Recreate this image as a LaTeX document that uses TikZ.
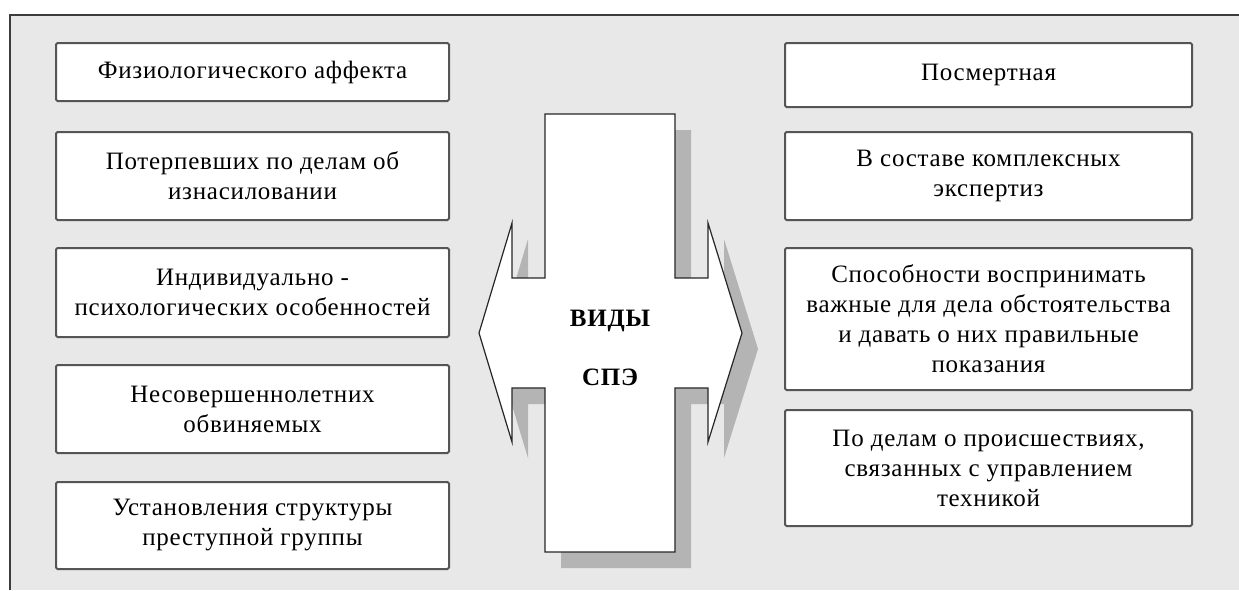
\documentclass[tikz,border=0pt]{standalone}
\usepackage{fontspec}
\setmainfont{Liberation Serif}[LetterSpace=3]
\definecolor{bg}{HTML}{E8E8E8}
\definecolor{frameline}{HTML}{3C3C3C}
\definecolor{boxline}{HTML}{555555}
\definecolor{shadowgray}{HTML}{B4B4B4}
\definecolor{shapeline}{HTML}{262626}
\begin{document}
\begin{tikzpicture}[x=1pt,y=-1pt,
  box/.style={draw=boxline, line width=2pt, fill=white, rounded corners=1.5pt,
    align=center, inner sep=0pt, font=\fontsize{25}{30}\selectfont},
  leftbox/.style={box, minimum width=393pt},
  rightbox/.style={box, minimum width=407pt},
  centertext/.style={font=\fontsize{25}{30}\selectfont\bfseries, anchor=base, inner sep=0pt}]
\useasboundingbox (0,0) rectangle (1239,590);
\fill[bg] (10,15) rectangle (1239,590);
\draw[frameline, line width=2.5pt] (10,590) -- (10,15) -- (1239,15);

% left column
\node[leftbox, minimum height=58pt] (l1) at (252.5,72) {Физиологического аффекта};
\node[leftbox, minimum height=88pt] (l2) at (252.5,176) {Потерпевших по делам об\\изнасиловании};
\node[leftbox, minimum height=89pt] (l3) at (252.5,292.5) {Индивидуально -\\психологических особенностей};
\node[leftbox, minimum height=88pt] (l4) at (252.5,409) {Несовершеннолетних\\обвиняемых};
\node[leftbox, minimum height=87pt] (l5) at (252.5,525.5) {Установления структуры\\преступной группы};

% right column
\node[rightbox, minimum height=64pt] (r1) at (988.5,75) {Посмертная};
\node[rightbox, minimum height=88pt] (r2) at (988.5,176) {В составе комплексных\\экспертиз};
\node[rightbox, minimum height=142pt] (r3) at (988.5,319) {Способности воспринимать\\важные для дела обстоятельства\\и давать о них правильные\\показания};
\node[rightbox, minimum height=116pt] (r4) at (988.5,468) {По делам о происшествиях,\\связанных с управлением\\техникой};

% central cross-arrow shape: shadow then shape
\fill[shadowgray] (561,130) -- (691,130) -- (691,294) -- (724,294) -- (724,239) -- (758,349)
  -- (724,458) -- (724,404) -- (691,404) -- (691,568) -- (561,568) -- (561,404)
  -- (528,404) -- (528,458) -- (495,349) -- (528,239) -- (528,294) -- (561,294) -- cycle;
\draw[shapeline, line width=1.2pt, fill=white, line join=miter] (545,114) -- (675,114) -- (675,278) -- (708,278) -- (708,223) -- (742,333)
  -- (708,442) -- (708,388) -- (675,388) -- (675,552) -- (545,552) -- (545,388)
  -- (512,388) -- (512,442) -- (479,333) -- (512,223) -- (512,278) -- (545,278) -- cycle;
\node[centertext] (vidy) at (610,326) {ВИДЫ};
\node[centertext] (spe) at (610,385) {СПЭ};
\end{tikzpicture}
\end{document}
